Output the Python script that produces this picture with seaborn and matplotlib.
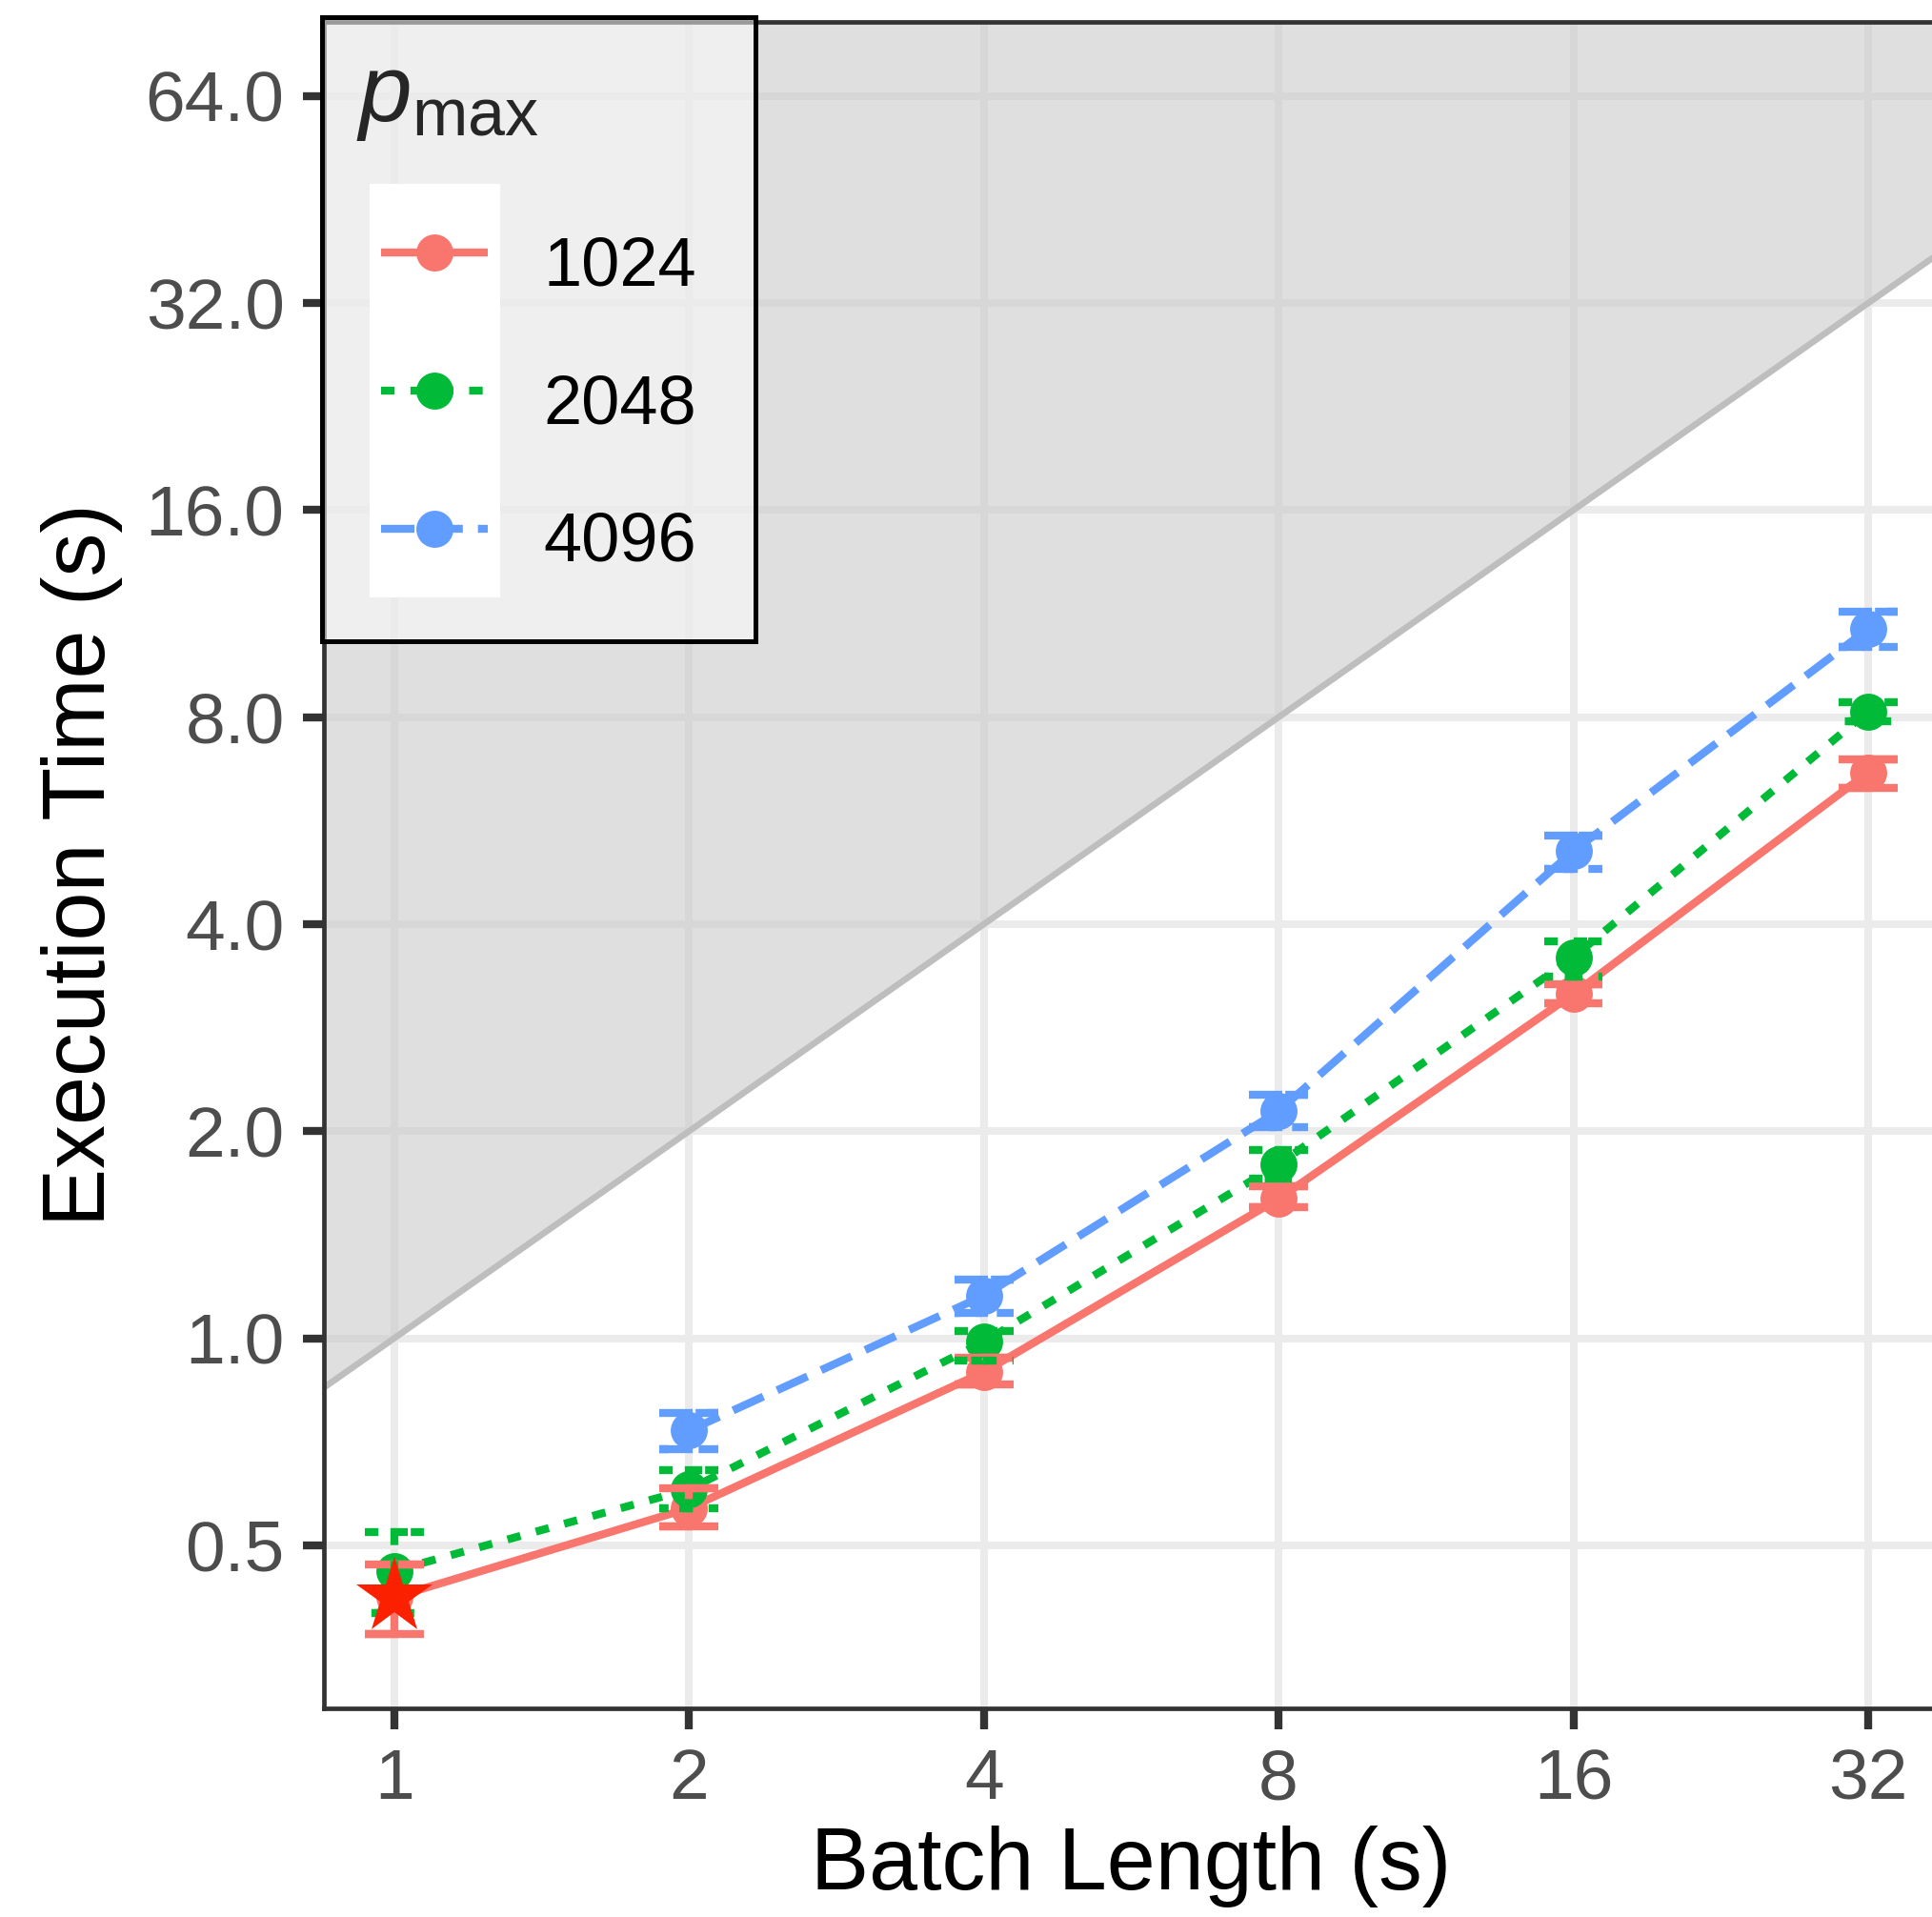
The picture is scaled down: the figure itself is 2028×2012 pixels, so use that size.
import numpy as np
import pandas as pd
import matplotlib
matplotlib.use("Agg")
import matplotlib.pyplot as plt
import seaborn as sns
from matplotlib.lines import Line2D
from matplotlib.patches import Rectangle
from matplotlib.ticker import FixedLocator, FixedFormatter, NullLocator

# ---------------- data ----------------
pmax_levels = ["1024", "2048", "4096"]

batch_1024 = [1, 2, 4, 8, 16, 32]
time_1024 = [0.420, 0.566, 0.893, 1.595, 3.166, 6.65]
lo_1024 = [0.372, 0.532, 0.858, 1.550, 3.07, 6.32]
hi_1024 = [0.469, 0.606, 0.937, 1.664, 3.27, 6.95]

batch_2048 = [1, 2, 4, 8, 16, 32]
time_2048 = [0.459, 0.603, 0.988, 1.79, 3.58, 8.16]
lo_2048 = [0.398, 0.566, 0.927, 1.705, 3.36, 7.90]
hi_2048 = [0.522, 0.642, 1.024, 1.877, 3.78, 8.42]

batch_4096 = [2, 4, 8, 16, 32]
time_4096 = [0.734, 1.153, 2.14, 5.11, 10.75]
lo_4096 = [0.690, 1.088, 2.03, 4.82, 10.12]
hi_4096 = [0.778, 1.216, 2.26, 5.39, 11.4]

best_batch = [1]
best_time = [0.420]

x_ticks = [1, 2, 4, 8, 16, 32]
x_ticklabels = ["1", "2", "4", "8", "16", "32"]
y_ticks = [0.5, 1, 2, 4, 8, 16, 32, 64]
y_ticklabels = ["0.5", "1.0", "2.0", "4.0", "8.0", "16.0", "32.0", "64.0"]

# ---------------- style ----------------
sns.set_theme(style="white")
plt.rcParams["font.family"] = ["Liberation Sans", "DejaVu Sans"]
plt.rcParams["mathtext.fontset"] = "custom"
plt.rcParams["mathtext.rm"] = "Liberation Sans"
plt.rcParams["mathtext.it"] = "Liberation Sans:italic"

palette = {"1024": "#F8766D", "2048": "#00BA38", "4096": "#619CFF"}
dash_map = {"1024": "", "2048": (1.7, 2.0), "4096": (4.2, 1.9)}
marker_map = {"1024": "o", "2048": "o", "4096": "o"}
LW = 3.0
MS = 14

frames = []
for lvl, bx, ty in [("1024", batch_1024, time_1024),
                    ("2048", batch_2048, time_2048),
                    ("4096", batch_4096, time_4096)]:
    frames.append(pd.DataFrame({"batch": bx, "time": ty, "pmax": lvl}))
df = pd.concat(frames, ignore_index=True)

fig = plt.figure(figsize=(10.14, 10.06), dpi=200)
W, H = 2028.0, 2012.0
ax_left, ax_right, ax_top, ax_bottom = 340.2, 2038.0, 22.7, 1792.6
ax = fig.add_axes([ax_left / W, (H - ax_bottom) / H,
                   (ax_right - ax_left) / W, (ax_bottom - ax_top) / H])

ax.set_xscale("log", base=2)
ax.set_yscale("log", base=2)
xlim = (2 ** -0.238, 2 ** 5.249)
ylim = (2 ** -1.786, 2 ** 6.36)

# grid
ax.set_axisbelow(True)
ax.grid(True, which="major", color="#ebebeb", linewidth=2.9)

# shaded region (execution time > batch length) and y = x guide
xl = np.array([xlim[0] * 0.9, xlim[1] * 1.1])
ax.fill_between(xl, xl, ylim[1] * 2, color="#cbcbcb", alpha=0.6,
                linewidth=0, zorder=1)
ax.plot(xl, xl, color="#bebebe", linewidth=2.4, zorder=1.2)

# series lines with points
sns.lineplot(data=df, x="batch", y="time", hue="pmax", style="pmax",
             hue_order=pmax_levels, style_order=pmax_levels,
             palette=palette, dashes=dash_map, markers=marker_map,
             linewidth=LW, markersize=MS, markeredgewidth=0,
             legend=False, errorbar=None, ax=ax, zorder=3)

# error bars drawn as ggplot-like paths (cap, stem, cap) in series linetype
f = 2 ** 0.1
for lvl, bx, lo, hi in [("1024", batch_1024, lo_1024, hi_1024),
                        ("2048", batch_2048, lo_2048, hi_2048),
                        ("4096", batch_4096, lo_4096, hi_4096)]:
    for xv, l, h in zip(bx, lo, hi):
        xs = [xv / f, xv * f, xv, xv, xv / f, xv * f]
        ys = [h, h, h, l, l, l]
        kw = dict(color=palette[lvl], linewidth=LW, zorder=4,
                  solid_capstyle="butt", dash_capstyle="butt",
                  solid_joinstyle="miter", dash_joinstyle="miter")
        if dash_map[lvl] == "":
            ax.plot(xs, ys, linestyle="-", **kw)
        else:
            ax.plot(xs, ys, dashes=dash_map[lvl], **kw)

# best configuration star
ax.plot(best_batch, best_time, linestyle="none", marker="*", markersize=30,
        markeredgewidth=0, color="#FA2000", zorder=6)

ax.set_xlim(*xlim)
ax.set_ylim(*ylim)
ax.xaxis.set_major_locator(FixedLocator(x_ticks))
ax.xaxis.set_major_formatter(FixedFormatter(x_ticklabels))
ax.yaxis.set_major_locator(FixedLocator(y_ticks))
ax.yaxis.set_major_formatter(FixedFormatter(y_ticklabels))
ax.xaxis.set_minor_locator(NullLocator())
ax.yaxis.set_minor_locator(NullLocator())

for sp in ax.spines.values():
    sp.set_visible(True)
    sp.set_color("#333333")
    sp.set_linewidth(1.7)

ax.tick_params(axis="both", which="major", direction="out", length=8,
               width=3, color="#333333", pad=7, labelsize=27,
               labelcolor="#4d4d4d", left=True, bottom=True)

ax.set_xlabel("Batch Length (s)", fontsize=33, color="black")
ax.set_ylabel("Execution Time (s)", fontsize=33, color="black")
ax.xaxis.set_label_coords(0.499, -0.070)
ax.yaxis.set_label_coords(-0.1246, 0.5)

# legend
handles = []
for lvl in pmax_levels:
    kw = dict(color=palette[lvl], linewidth=LW, marker="o", markersize=MS,
              markeredgewidth=0, dash_capstyle="butt", solid_capstyle="butt")
    if dash_map[lvl] == "":
        handles.append(Line2D([], [], linestyle="-", **kw))
    else:
        handles.append(Line2D([], [], dashes=dash_map[lvl], **kw))

leg = ax.legend(handles, pmax_levels, title=r"$p_{\mathrm{max}}$",
                loc="upper left", bbox_to_anchor=(-0.0013, 1.0026),
                frameon=True, fancybox=False, edgecolor="black",
                facecolor="none", framealpha=1, fontsize=26,
                title_fontsize=36, handlelength=1.55, handleheight=1.55,
                handletextpad=0.8, labelspacing=0.75, borderpad=0.5,
                borderaxespad=0, alignment="left")
leg.get_frame().set_linewidth(1.8)
leg.set_zorder(10)
for t in leg.get_texts():
    t.set_color("black")
try:
    leg._legend_handle_box.pad = 9.5
except Exception:
    pass

# legend background and key backgrounds (computed from rendered legend)
fig.canvas.draw()
renderer = fig.canvas.get_renderer()
inv = ax.transAxes.inverted()
bb = leg.get_window_extent(renderer).transformed(inv)
ax.add_patch(Rectangle((bb.x0, bb.y0), bb.width, bb.height,
                       transform=ax.transAxes, facecolor="white", alpha=0.5,
                       linewidth=0, zorder=9, clip_on=False))
xs_all, centers = [], []
for h in leg.legend_handles:
    pts = h.get_transform().transform(h.get_xydata())
    xs_all.extend(list(pts[:, 0]))
    centers.append(pts[:, 1].mean())
x0, x1 = min(xs_all), max(xs_all)
pad = 0.113 * (x1 - x0)
s = abs(centers[0] - centers[1])
ytop = max(centers) + s / 2
ybot = min(centers) - s / 2
p0 = inv.transform((x0 - pad, ybot))
p1 = inv.transform((x1 + pad, ytop))
ax.add_patch(Rectangle((p0[0], p0[1]), p1[0] - p0[0], p1[1] - p0[1],
                       transform=ax.transAxes, facecolor="white",
                       linewidth=0, zorder=9.5, clip_on=False))

fig.savefig("out.png", dpi=200)
